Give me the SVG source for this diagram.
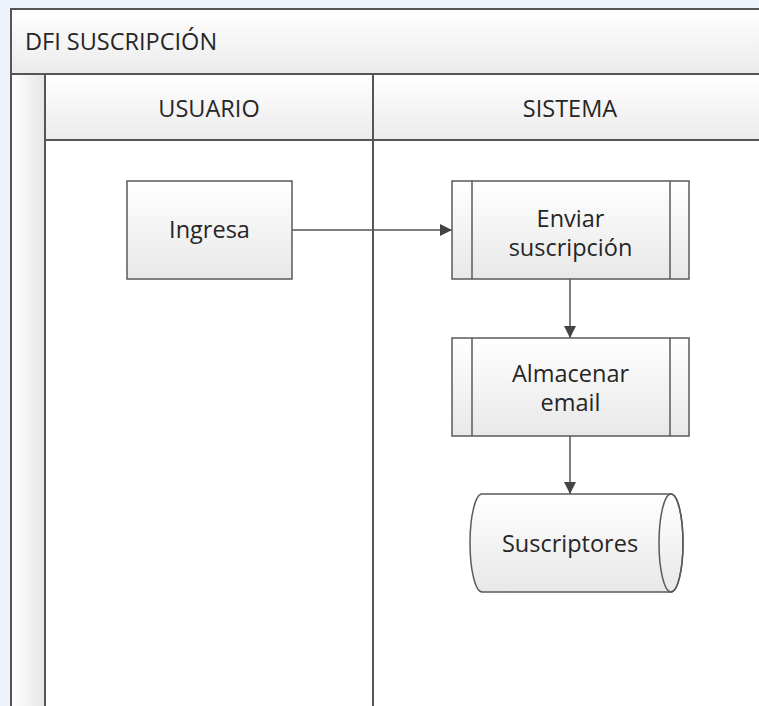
<svg xmlns="http://www.w3.org/2000/svg" width="759" height="706" viewBox="0 0 759 706">
  <defs>
    <linearGradient id="gBox" x1="0" y1="0" x2="0" y2="1">
      <stop offset="0" stop-color="#ffffff"/>
      <stop offset="1" stop-color="#e8e8e8"/>
    </linearGradient>
    <linearGradient id="gBand" x1="0" y1="0" x2="0" y2="1">
      <stop offset="0" stop-color="#ffffff"/>
      <stop offset="1" stop-color="#ebebeb"/>
    </linearGradient>
    <linearGradient id="gStrip" x1="0" y1="0" x2="1" y2="0">
      <stop offset="0" stop-color="#ffffff"/>
      <stop offset="1" stop-color="#e6e6e6"/>
    </linearGradient>
    <marker id="arrow" viewBox="0 0 12 12" refX="12" refY="6" markerWidth="12" markerHeight="12" markerUnits="userSpaceOnUse" orient="auto">
      <path d="M0,0 L12,6 L0,12 Z" fill="#444"/>
    </marker>
    <style>
      .frame { stroke: #555; stroke-width: 2; }
      .shape { stroke: #5a5a5a; stroke-width: 1.5; fill: url(#gBox); }
      .txt { font-family: "Open Sans", "Liberation Sans", sans-serif; font-size: 23.5px; fill: #262626; text-anchor: middle; }
      .edge { stroke: #555; stroke-width: 1.5; fill: none; marker-end: url(#arrow); }
    </style>
  </defs>

  <!-- page background -->
  <rect x="0" y="0" width="759" height="706" fill="#eef2fa"/>

  <!-- pool -->
  <g id="pool">
    <rect x="11" y="9" width="760" height="710" fill="#ffffff"/>
    <rect x="11" y="9" width="760" height="65" fill="url(#gBand)" class="frame"/>
    <text x="25" y="50" class="txt" style="text-anchor:start">DFI SUSCRIPCIÓN</text>
    <rect x="11" y="74" width="34" height="650" fill="url(#gStrip)" class="frame"/>
  </g>

  <!-- lanes -->
  <g id="lane-usuario">
    <rect x="45" y="74" width="328" height="66" fill="url(#gBand)" class="frame"/>
    <rect x="45" y="140" width="328" height="590" fill="#ffffff" class="frame"/>
    <text x="209" y="117" class="txt">USUARIO</text>
  </g>
  <g id="lane-sistema">
    <rect x="373" y="74" width="400" height="66" fill="url(#gBand)" class="frame"/>
    <rect x="373" y="140" width="400" height="590" fill="#ffffff" class="frame"/>
    <text x="570" y="117" class="txt">SISTEMA</text>
  </g>

  <!-- connectors -->
  <g id="connectors">
    <path class="edge" d="M292,230 L452,230"/>
    <path class="edge" d="M570,279 L570,338"/>
    <path class="edge" d="M570,436 L570,494"/>
  </g>

  <!-- nodes -->
  <g id="ingresa">
    <rect x="127" y="181" width="165" height="98" class="shape"/>
    <text x="209.5" y="238" class="txt">Ingresa</text>
  </g>

  <g id="enviar-suscripcion">
    <rect x="452" y="181" width="237" height="98" class="shape"/>
    <line x1="472" y1="181" x2="472" y2="279" stroke="#5a5a5a" stroke-width="1.5"/>
    <line x1="670" y1="181" x2="670" y2="279" stroke="#5a5a5a" stroke-width="1.5"/>
    <text x="570.5" y="227" class="txt">Enviar</text>
    <text x="570.5" y="256" class="txt">suscripción</text>
  </g>

  <g id="almacenar-email">
    <rect x="452" y="338" width="237" height="98" class="shape"/>
    <line x1="472" y1="338" x2="472" y2="436" stroke="#5a5a5a" stroke-width="1.5"/>
    <line x1="670" y1="338" x2="670" y2="436" stroke="#5a5a5a" stroke-width="1.5"/>
    <text x="570.5" y="382" class="txt">Almacenar</text>
    <text x="570.5" y="411" class="txt">email</text>
  </g>

  <g id="suscriptores">
    <path class="shape" d="M482,494 L671,494 A12,49 0 0 1 671,592 L482,592 A12,49 0 0 1 482,494 Z"/>
    <ellipse cx="671" cy="543" rx="12" ry="49" fill="none" stroke="#5a5a5a" stroke-width="1.5"/>
    <text x="570" y="552" class="txt">Suscriptores</text>
  </g>
</svg>
